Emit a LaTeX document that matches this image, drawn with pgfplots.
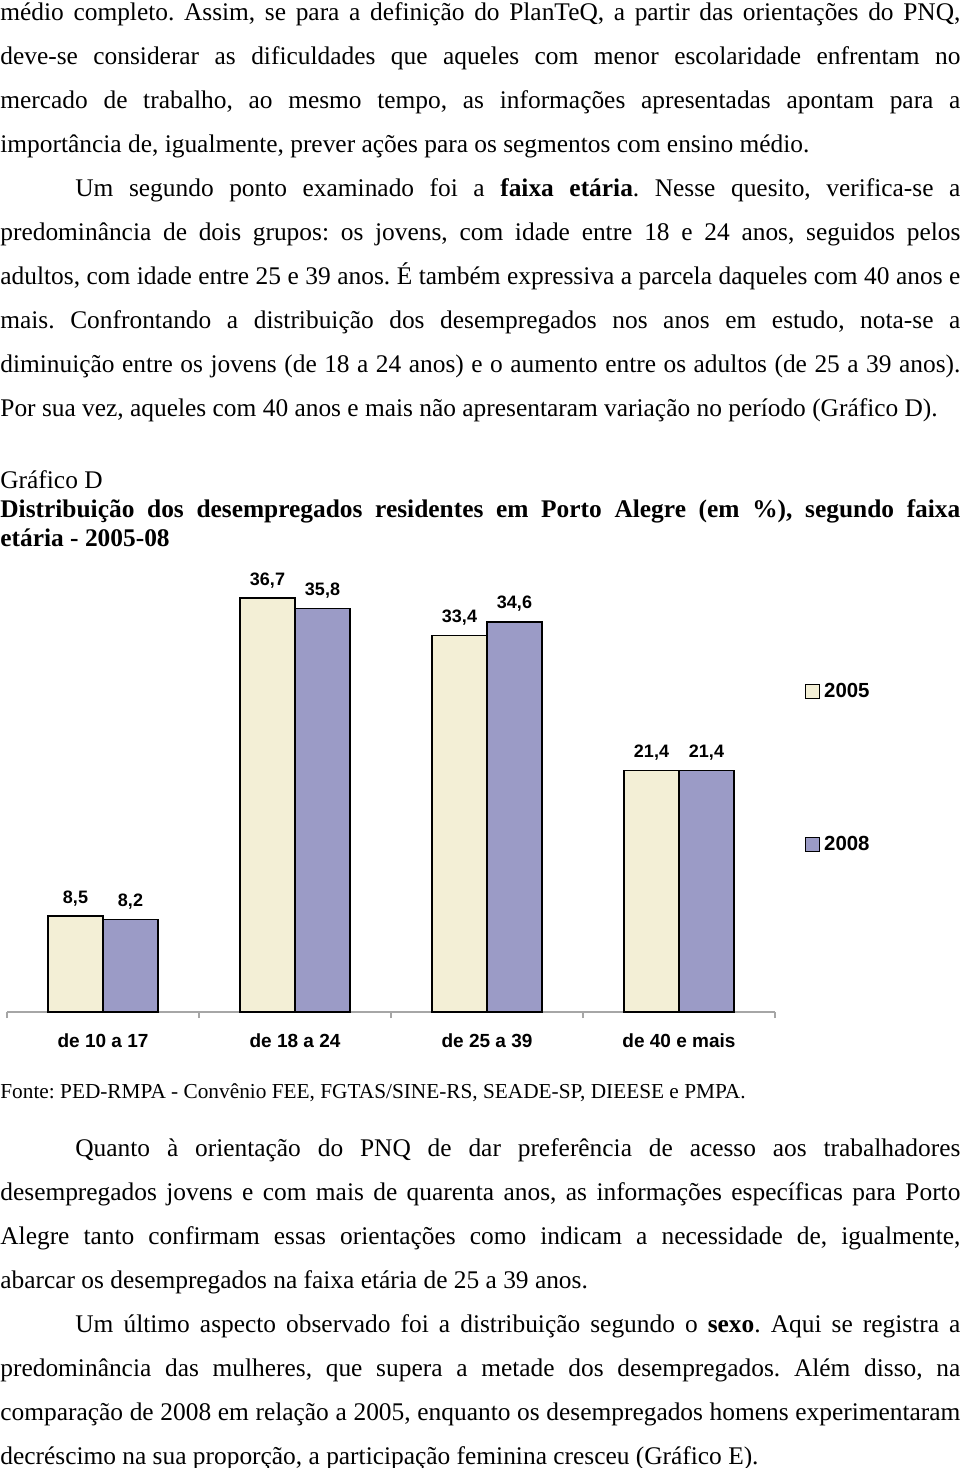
\documentclass[border=0pt]{standalone}
\usepackage{fontspec}
\setmainfont{Liberation Serif}
\setsansfont{Liberation Sans}
\usepackage{pgfplots}
\usepackage{pgfplotstable}
\pgfplotsset{compat=1.18}
\definecolor{c05}{RGB}{243,239,214}
\definecolor{c08}{RGB}{155,155,198}
\pgfplotstableread{
x y05 y08
0.5 8.5 8.2
1.5 36.7 35.8
2.5 33.4 34.6
3.5 21.4 21.4
}\datatable

\begin{document}
\frenchspacing
\begin{tikzpicture}[x=1pt,y=1pt]
\useasboundingbox (0pt,0pt) rectangle (480pt,-734pt);
\fill[white] (0pt,0pt) rectangle (480pt,-734pt);
\node[anchor=base west, inner sep=0pt, text width=480pt, align=justify, font=\fontsize{12.7}{22}\selectfont\frenchspacing] at (0pt,-10pt) {%
médio completo. Assim, se para a definição do PlanTeQ, a partir das orientações do PNQ,\linebreak
deve-se considerar as dificuldades que aqueles com menor escolaridade enfrentam no\linebreak
mercado de trabalho, ao mesmo tempo, as informações apresentadas apontam para a\linebreak
importância de, igualmente, prever ações para os segmentos com ensino médio.\par
\hspace*{37.5pt}Um segundo ponto examinado foi a \textbf{faixa etária}. Nesse quesito, verifica-se a\linebreak
predominância de dois grupos: os jovens, com idade entre 18 e 24 anos, seguidos pelos\linebreak
adultos, com idade entre 25 e 39 anos. É também expressiva a parcela daqueles com 40 anos e\linebreak
mais. Confrontando a distribuição dos desempregados nos anos em estudo, nota-se a\linebreak
diminuição entre os jovens (de 18 a 24 anos) e o aumento entre os adultos (de 25 a 39 anos).\linebreak
Por sua vez, aqueles com 40 anos e mais não apresentaram variação no período (Gráfico D).};
\node[anchor=base west, inner sep=0pt, font=\fontsize{12.7}{14.5}\selectfont] at (0pt,-244pt) {Gráfico D};
\node[anchor=base west, inner sep=0pt, text width=480pt, align=justify, font=\fontsize{12.7}{14.5}\selectfont\bfseries\frenchspacing] at (0pt,-258.5pt) {%
Distribuição dos desempregados residentes em Porto Alegre (em \%), segundo faixa\linebreak
etária - 2005-08};
\node[anchor=base west, inner sep=0pt, font=\fontsize{10.65}{13}\selectfont\frenchspacing] at (0pt,-549pt) {Fonte: PED-RMPA - Convênio FEE, FGTAS/SINE-RS, SEADE-SP, DIEESE e PMPA.};
\node[anchor=base west, inner sep=0pt, text width=480pt, align=justify, font=\fontsize{12.7}{22}\selectfont\frenchspacing] at (0pt,-578pt) {%
\hspace*{37.5pt}Quanto à orientação do PNQ de dar preferência de acesso aos trabalhadores\linebreak
desempregados jovens e com mais de quarenta anos, as informações específicas para Porto\linebreak
Alegre tanto confirmam essas orientações como indicam a necessidade de, igualmente,\linebreak
abarcar os desempregados na faixa etária de 25 a 39 anos.\par
\hspace*{37.5pt}Um último aspecto observado foi a distribuição segundo o \textbf{sexo}. Aqui se registra a\linebreak
predominância das mulheres, que supera a metade dos desempregados. Além disso, na\linebreak
comparação de 2008 em relação a 2005, enquanto os desempregados homens experimentaram\linebreak
decréscimo na sua proporção, a participação feminina cresceu (Gráfico E).};
\begin{axis}[
  at={(3.5pt,-506pt)}, anchor=south west,
  scale only axis, width=384pt, height=225.5pt,
  xmin=0, xmax=4, ymin=0, ymax=40,
  enlargelimits=false, clip=false,
  ybar=0pt, bar width=27.5pt,
  axis x line*=bottom, axis y line=none,
  x axis line style={draw=gray!70, line width=0.6pt, -},
  xtick={0.5,1.5,2.5,3.5},
  xticklabels={de 10 a 17, de 18 a 24, de 25 a 39, de 40 e mais},
  minor xtick={0,1,2,3,4},
  major tick length=0pt, minor tick length=3pt, tick align=outside,
  minor x tick style={draw=gray!70, line width=0.6pt},
  ytick=\empty,
  xticklabel style={font=\sffamily\bfseries\fontsize{9.5}{11}\selectfont, anchor=base, yshift=-17.5pt},
  /pgf/number format/.cd, use comma, fixed, fixed zerofill, precision=1, assume math mode=true, /pgfplots/.cd,
  nodes near coords,
  nodes near coords style={font=\sffamily\bfseries\fontsize{9}{10}\selectfont, anchor=base, yshift=6.5pt, text=black},
  legend style={at={(1.031,0.748)}, anchor=north west, draw=none, fill=none, row sep=64pt,
    font=\sffamily\bfseries\fontsize{10.2}{12}\selectfont, cells={anchor=west}},
  legend image code/.code={\draw[#1, line width=0.5pt] (0pt,-3.5pt) rectangle (7pt,3.5pt);},
]
\addplot[fill=c05, draw=black, line width=0.75pt] table[x=x, y=y05]{\datatable};
\addlegendentry{2005}
\addplot[fill=c08, draw=black, line width=0.75pt] table[x=x, y=y08]{\datatable};
\addlegendentry{2008}
\end{axis}
\end{tikzpicture}
\end{document}
